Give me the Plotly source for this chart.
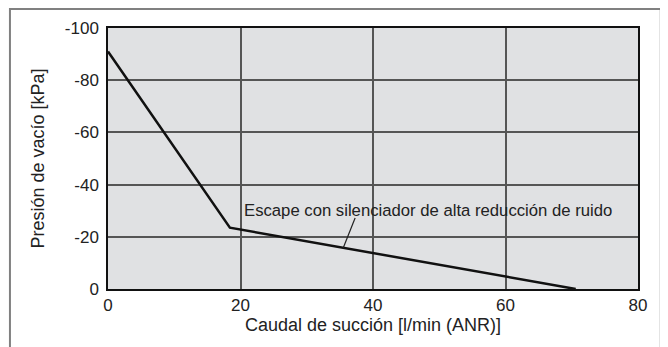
import plotly.graph_objects as go

# curve
flow = [0, 18.4, 70.6]
vacuum = [-91, -23.5, 0]

x_ticks = [0, 20, 40, 60, 80]
y_ticks = [-100, -80, -60, -40, -20, 0]
y_labels = ["-100", "-80", "-60", "-40", "-20", "0"]

label = "Escape con silenciador de alta reducción de ruido"
font = "Liberation Sans, Arial, sans-serif"
ink = "#222222"

fig = go.Figure()
fig.add_trace(
    go.Scatter(x=flow, y=vacuum, mode="lines",
               line={"color": "#111111", "width": 2.5}, showlegend=False)
)

# text label and its leader line
fig.add_annotation(x=20.2, y=-30, xanchor="left", yanchor="middle",
                   text=label, showarrow=False,
                   font={"family": font, "size": 16.7, "color": ink})
fig.add_shape(type="line", x0=35.5, y0=-15.7, x1=37.3, y1=-27.2,
              line={"color": ink, "width": 1.2})

# outer frame, open at the bottom
fig.add_shape(type="path", xref="paper", yref="paper",
              path="M -0.185,-0.3 L -0.185,1.073 L 1.043,1.073 L 1.043,-0.3",
              line={"color": "#808080", "width": 2})

axis_common = dict(
    showgrid=True, gridcolor="#555555", gridwidth=1.5,
    showline=True, linecolor="#111111", linewidth=1.5, mirror=True,
    zeroline=False, ticks="",
    tickfont={"family": font, "size": 17, "color": ink},
)
fig.update_xaxes(range=[0, 80], tickvals=x_ticks,
                 title={"text": "Caudal de succión [l/min (ANR)]",
                        "font": {"family": font, "size": 18, "color": ink},
                        "standoff": 1},
                 **axis_common)
fig.update_yaxes(range=[0, -100], tickvals=y_ticks, ticktext=y_labels,
                 ticklabelstandoff=4,
                 title={"text": "Presión de vacío [kPa]",
                        "font": {"family": font, "size": 18, "color": ink},
                        "standoff": 16},
                 **axis_common)

# page body adds an 8px offset, so the figure is 8px smaller
fig.update_layout(
    width=660, height=339,
    margin={"l": 100, "r": 30, "t": 20, "b": 58},
    plot_bgcolor="#e0e1e3",
    paper_bgcolor="white",
)

fig.write_html("out.html")
